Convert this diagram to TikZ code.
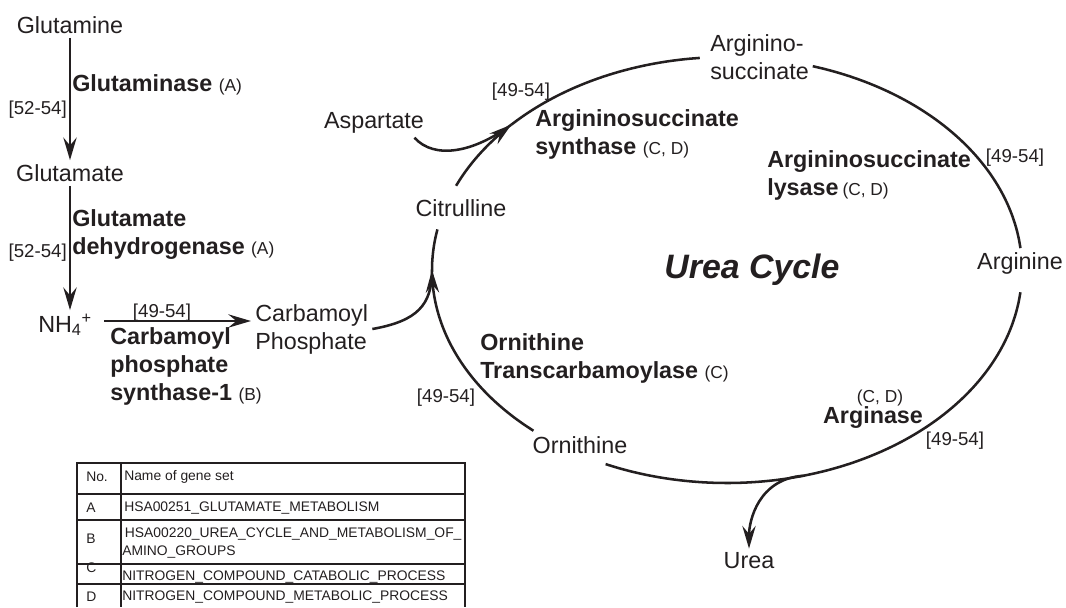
\documentclass[tikz,border=0pt]{standalone}
\usepackage{fontspec}
\setmainfont{Liberation Sans}
\usetikzlibrary{arrows.meta}
\definecolor{ink}{HTML}{231F20}
\newcommand{\gset}[1]{{\fontsize{13}{15}\selectfont\mdseries #1}}
\tikzset{
  metab/.style={font=\fontsize{17.5}{21}\selectfont, text=ink, inner sep=3pt},
  enzyme/.style={font=\fontsize{17.5}{21}\selectfont\bfseries, text=ink, align=left, inner sep=0pt},
  refs/.style={font=\fontsize{14}{16}\selectfont, text=ink, inner sep=0pt},
  cell/.style={font=\fontsize{10.4}{13.5}\selectfont, text=ink, anchor=west, inner sep=0pt},
  cyc/.style={line width=1.9pt, draw=ink},
  arr/.style={cyc, -{Stealth[length=17pt, width=10pt, inset=6pt]}},
  grid/.style={line width=0.8pt, draw=ink},
}
\begin{document}
\begin{tikzpicture}[x=0.75pt, y=-0.75pt]
\useasboundingbox (0,0) rectangle (1066,607);
% glutamine -> glutamate -> NH4+ -> carbamoyl phosphate
\node[metab] (glutamine) at (70,25) {Glutamine};
\node[metab] (glutamate) at (70,173) {Glutamate};
\node[metab, anchor=west] (nh4) at (34,325) {NH\textsubscript{4}\textsuperscript{+}};
\node[metab, anchor=west, align=left] (carbp) at (251,329) {Carbamoyl\\Phosphate};
\node[enzyme, anchor=west] (glnase) at (72,85) {Glutaminase \gset{(A)}};
\node[refs, anchor=east] (r1) at (67,110) {[52-54]};
\node[enzyme, anchor=west] (gdh) at (72,235) {Glutamate\\dehydrogenase \gset{(A)}};
\node[refs, anchor=east] (r2) at (67,253) {[52-54]};
\node[refs] (r3) at (162,313) {[49-54]};
\node[enzyme, anchor=west] (cps) at (110,366) {Carbamoyl\\phosphate\\synthase-1 \gset{(B)}};
\draw[arr] (glutamine) -- (glutamate);
\draw[arr] (glutamate) -- (glutamate |- nh4.north);
\draw[arr, shorten <=6pt] ([yshift=3pt]nh4.east) -- ([yshift=3pt]nh4.east -| carbp.west);

% urea cycle
\node[metab] (aspartate) at (374,123) {Aspartate};
\node[metab] (citrulline) at (461,208) {Citrulline};
\node[metab, anchor=west, align=left] (argsucc) at (706,57) {Arginino-\\succinate};
\node[metab] (arginine) at (1020,263) {Arginine};
\node[metab] (ornithine) at (580,445) {Ornithine};
\node[metab] (urea) at (749,561) {Urea};
\node[font=\fontsize{25.4}{30}\selectfont\bfseries\itshape, text=ink] (title) at (752,270) {Urea Cycle};
\node[refs] (r4) at (521,92) {[49-54]};
\node[enzyme, anchor=west] (ass) at (535,134) {Argininosuccinate\\synthase \gset{(C, D)}};
\node[enzyme, anchor=west] (asl) at (767,175) {Argininosuccinate\\lysase\,\gset{(C, D)}};
\node[refs] (r5) at (1015,158) {[49-54]};
\node[enzyme, anchor=west] (otc) at (480,358) {Ornithine\\Transcarbamoylase \gset{(C)}};
\node[refs] (r6) at (446,398) {[49-54]};
\node[refs] (argcd) at (880,398) {\gset{(C, D)}};
\node[enzyme] (arginase) at (873,418) {Arginase};
\node[refs] (r7) at (955,441) {[49-54]};

\coordinate (ctip) at ({727+295*cos(180)},{270+213*sin(180)});
\coordinate (atip) at ({727+295*cos(223)},{270+213*sin(223)});
\coordinate (ubr) at ({727+295*cos(75)},{270+213*sin(75)});
\draw[cyc] plot[domain=6:114.3, samples=40, smooth] ({727+295*cos(\x)},{270+213*sin(\x)});
\draw[arr] plot[domain=131:180, samples=20, smooth] ({727+295*cos(\x)},{270+213*sin(\x)});
\draw[cyc] plot[domain=180:191, samples=6, smooth] ({727+295*cos(\x)},{270+213*sin(\x)});
\draw[arr] plot[domain=203.3:223, samples=10, smooth] ({727+295*cos(\x)},{270+213*sin(\x)});
\draw[cyc] plot[domain=223:264.7, samples=20, smooth] ({727+295*cos(\x)},{270+213*sin(\x)});
\draw[cyc] plot[domain=286.9:354.1, samples=30, smooth] ({727+295*cos(\x)},{270+213*sin(\x)});
\draw[cyc] (carbp.east) .. controls +(45,-8) and +(0,35) .. (ctip);
\draw[cyc] (aspartate.-20) .. controls +(20,22) and +(-38,28) .. (atip);
\draw[arr] (ubr) .. controls +(-45,3) and +(0,-40) .. (urea);

% gene set table
\draw[grid] (77,607) -- (77,463) -- (465,463) -- (465,607);
\draw[grid] (121,463) -- (121,607);
\draw[grid] (77,494) -- (465,494) (77,520) -- (465,520) (77,564) -- (465,564) (77,584) -- (465,584);
\node[cell] (tno) at (86,477) {No.};
\node[cell] (tname) at (124,477) {Name of gene set};
\node[cell] (ta) at (86,508) {A};
\node[cell] (tsa) at (124,508) {HSA00251\_GLUTAMATE\_METABOLISM};
\node[cell] (tb) at (86,539) {B};
\node[cell, align=left] (tsb) at (122,543) {\hspace{2pt}HSA00220\_UREA\_CYCLE\_AND\_METABOLISM\_OF\_\\AMINO\_GROUPS};
\node[cell] (tc) at (86,568) {C};
\node[cell] (tsc) at (122,577) {NITROGEN\_COMPOUND\_CATABOLIC\_PROCESS};
\node[cell] (td) at (86,597) {D};
\node[cell] (tsd) at (122,597) {NITROGEN\_COMPOUND\_METABOLIC\_PROCESS};
\end{tikzpicture}
\end{document}
